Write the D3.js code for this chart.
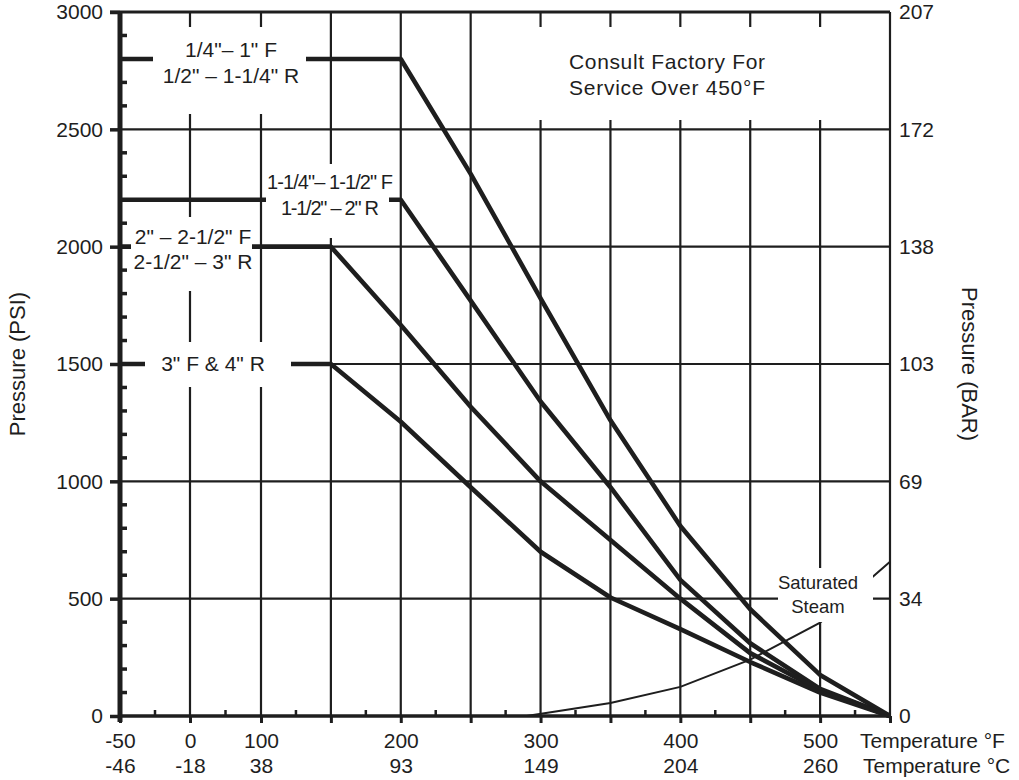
<!DOCTYPE html>
<html><head><meta charset="utf-8">
<script src="https://cdn.jsdelivr.net/npm/d3@7"></script>
<style>
body{margin:0;background:#fff}
svg{display:block}
text{font-family:"Liberation Sans",Arial,Helvetica,sans-serif;fill:#1e1e1e}
</style>
</head><body>
<svg id="chart" width="1019" height="780"></svg>
<script>
// ---- data ----
const tempsF = [-50, 150, 200, 250, 300, 350, 400, 450, 500, 550];
const pressure1 = [2800, 2800, 2800, 2310, 1780, 1260, 810, 455, 175, 0];   // 1/4"–1" F, 1/2"–1-1/4" R
const pressure2 = [2200, 2200, 2200, 1770, 1340, 975, 580, 310, 115, 0];    // 1-1/4"–1-1/2" F, 1-1/2"–2" R
const pressure3 = [2000, 2000, 1666, 1318, 1000, 750, 500, 268, 110, 0];    // 2"–2-1/2" F, 2-1/2"–3" R
const pressure4 = [1500, 1500, 1254, 975, 700, 505, 370, 230, 100, 0];      // 3" F & 4" R
const seriesNames = [
  ["1/4\"– 1\" F", "1/2\" – 1-1/4\" R"],
  ["1-1/4\"– 1-1/2\" F", "1-1/2\" – 2\" R"],
  ["2\" – 2-1/2\" F", "2-1/2\" – 3\" R"],
  ["3\" F & 4\" R"]
];
const steamTempsF = [290, 350, 400, 450, 500, 550];
const steamPressure = [0, 55, 124, 240, 398, 657];
const steamName = ["Saturated", "Steam"];
const noteText = ["Consult Factory For", "Service Over 450°F"];

const psiTicks = [0, 500, 1000, 1500, 2000, 2500, 3000];
const barTickLabels = ["0", "34", "69", "103", "138", "172", "207"];
const fTickValues = [-50, 0, 100, 200, 300, 400, 500];
const cTickLabels = ["-46", "-18", "38", "93", "149", "204", "260"];
const gridTempsF = [0, 100, 150, 200, 250, 300, 350, 400, 450, 500];
const minorTempsF = [-25, 50, 125, 175, 225, 275, 325, 375, 425, 475, 525];
const minorPsi = d3.range(100, 3000, 100).filter(v => v % 500 !== 0);

// ---- scales ----
const svg = d3.select("#chart");
const x = d3.scaleLinear().domain([-50, 0, 100, 550]).range([120, 190, 261, 890]);
const y = d3.scaleLinear().domain([0, 3000]).range([716, 12]);
const ink = "#1e1e1e";
const FONT = '"Liberation Sans",Arial,sans-serif';

// ---- grid ----
const grid = svg.append("g");
grid.selectAll("line.v").data(gridTempsF).join("line")
  .attr("x1", d => x(d)).attr("x2", d => x(d)).attr("y1", y(3000)).attr("y2", y(0))
  .attr("stroke", ink).attr("stroke-width", 2.2);
grid.selectAll("line.h").data(psiTicks.filter(d => d > 0 && d < 3000)).join("line")
  .attr("x1", x(-50)).attr("x2", x(550)).attr("y1", d => y(d)).attr("y2", d => y(d))
  .attr("stroke", ink).attr("stroke-width", 2.2);
svg.append("line").attr("x1", 110).attr("x2", x(550)).attr("y1", y(3000)).attr("y2", y(3000))
  .attr("stroke", ink).attr("stroke-width", 3);
svg.append("line").attr("x1", x(550)).attr("x2", x(550)).attr("y1", y(3000)).attr("y2", y(0))
  .attr("stroke", ink).attr("stroke-width", 2.2);

// ---- curves ----
const line = d3.line().x(d => x(d[0])).y(d => y(d[1]));
const curves = [pressure1, pressure2, pressure3, pressure4].map(p => tempsF.map((t, i) => [t, p[i]]));
svg.append("g").selectAll("path").data(curves).join("path")
  .attr("d", line).attr("fill", "none").attr("stroke", ink)
  .attr("stroke-width", 4.6).attr("stroke-linejoin", "round");
svg.append("path").datum(steamTempsF.map((t, i) => [t, steamPressure[i]]))
  .attr("d", line).attr("fill", "none").attr("stroke", ink).attr("stroke-width", 2);

// ---- white label boxes & labels ----
const boxes = [
  {x0: 153, x1: 306, y0: 27, y1: 114, cx: 231, lines: seriesNames[0], ty: [50, 76], fs: 21},
  {x0: 266, x1: 389, y0: 164, y1: 238, cx: 330, lines: seriesNames[1], ty: [182, 208], fs: 20, len: [126, 98], adj: "spacing"},
  {x0: 131, x1: 252, y0: 217, y1: 291, cx: 193, lines: seriesNames[2], ty: [237, 262], fs: 21},
  {x0: 145, x1: 291, y0: 342, y1: 387, cx: 213, lines: seriesNames[3], ty: [364], fs: 21},
  {x0: 495, x1: 868, y0: 27, y1: 120, cx: 667, lines: noteText, ty: [62, 88], fs: 21, len: [196, 196], adj: "spacing"},
  {x0: 778, x1: 873, y0: 568, y1: 622, cx: 818, lines: steamName, ty: [583, 607], fs: 18.5}
];
const lab = svg.append("g");
boxes.forEach(b => {
  lab.append("rect").attr("x", b.x0).attr("y", b.y0).attr("width", b.x1 - b.x0).attr("height", b.y1 - b.y0)
    .attr("fill", "#fff");
  b.lines.forEach((t, i) => {
    const tx = lab.append("text").attr("x", b.cx).attr("y", b.ty[i]).attr("dy", "0.35em")
      .attr("text-anchor", "middle").attr("font-size", b.fs).text(t);
    if (b.len) tx.attr("textLength", b.len[i]).attr("lengthAdjust", b.adj);
  });
});

// ---- left axis (PSI) ----
const leftAxis = svg.append("g").attr("transform", `translate(${x(-50)},0)`)
  .call(d3.axisLeft(y).tickValues(psiTicks).tickFormat(d3.format("d")).tickSize(10).tickPadding(7));
leftAxis.select(".domain").attr("stroke", ink).attr("stroke-width", 5).attr("d", `M0,${y(3000)}V${y(0) + 6}`);
leftAxis.selectAll(".tick line").attr("stroke", ink).attr("stroke-width", 3.5);
leftAxis.selectAll("text").attr("font-size", 21).attr("fill", ink).style("font-family", FONT);
svg.append("g").selectAll("line").data(minorPsi).join("line")
  .attr("x1", x(-50)).attr("x2", x(-50) + 7).attr("y1", d => y(d)).attr("y2", d => y(d))
  .attr("stroke", ink).attr("stroke-width", 3.5);

// ---- right axis (BAR) ----
const rightAxis = svg.append("g").attr("transform", `translate(${x(550)},0)`)
  .call(d3.axisRight(y).tickValues(psiTicks).tickFormat((d, i) => barTickLabels[i]).tickSize(0).tickPadding(9));
rightAxis.select(".domain").remove();
rightAxis.selectAll("text").attr("font-size", 21).attr("fill", ink).style("font-family", FONT);

// ---- bottom axis (°F) ----
const bottom = svg.append("g").attr("transform", `translate(0,${y(0)})`)
  .call(d3.axisBottom(x).tickValues([-50, ...gridTempsF, 550]).tickSize(7).tickFormat(""));
bottom.select(".domain").attr("stroke", ink).attr("stroke-width", 3.5).attr("d", `M${x(-50)},0H${x(550)}`);
bottom.selectAll(".tick line").attr("stroke", ink).attr("stroke-width", 3);
svg.append("g").selectAll("line").data(minorTempsF).join("line")
  .attr("x1", d => x(d)).attr("x2", d => x(d)).attr("y1", y(0)).attr("y2", y(0) - 6)
  .attr("stroke", ink).attr("stroke-width", 2.5);

const fRow = svg.append("g").attr("transform", `translate(0,${y(0)})`)
  .call(d3.axisBottom(x).tickValues(fTickValues).tickSize(0).tickFormat(d => String(d)));
fRow.select(".domain").remove();
fRow.selectAll("text").attr("y", 31.5).attr("dy", null).attr("font-size", 21).attr("fill", ink).style("font-family", FONT);
const cRow = svg.append("g").attr("transform", `translate(0,${y(0)})`)
  .call(d3.axisBottom(x).tickValues(fTickValues).tickSize(0).tickFormat((d, i) => cTickLabels[i]));
cRow.select(".domain").remove();
cRow.selectAll("text").attr("y", 57).attr("dy", null).attr("font-size", 21).attr("fill", ink).style("font-family", FONT);

svg.append("text").attr("x", 860).attr("y", y(0) + 31.5).attr("font-size", 21).text("Temperature °F");
svg.append("text").attr("x", 863).attr("y", y(0) + 57).attr("font-size", 21).text("Temperature °C");

// ---- axis titles ----
svg.append("text").attr("transform", "translate(25,364) rotate(-90)").attr("text-anchor", "middle")
  .attr("font-size", 22).text("Pressure (PSI)");
svg.append("text").attr("transform", "translate(962,364) rotate(90)").attr("text-anchor", "middle")
  .attr("font-size", 22).text("Pressure (BAR)");
</script>
</body></html>
